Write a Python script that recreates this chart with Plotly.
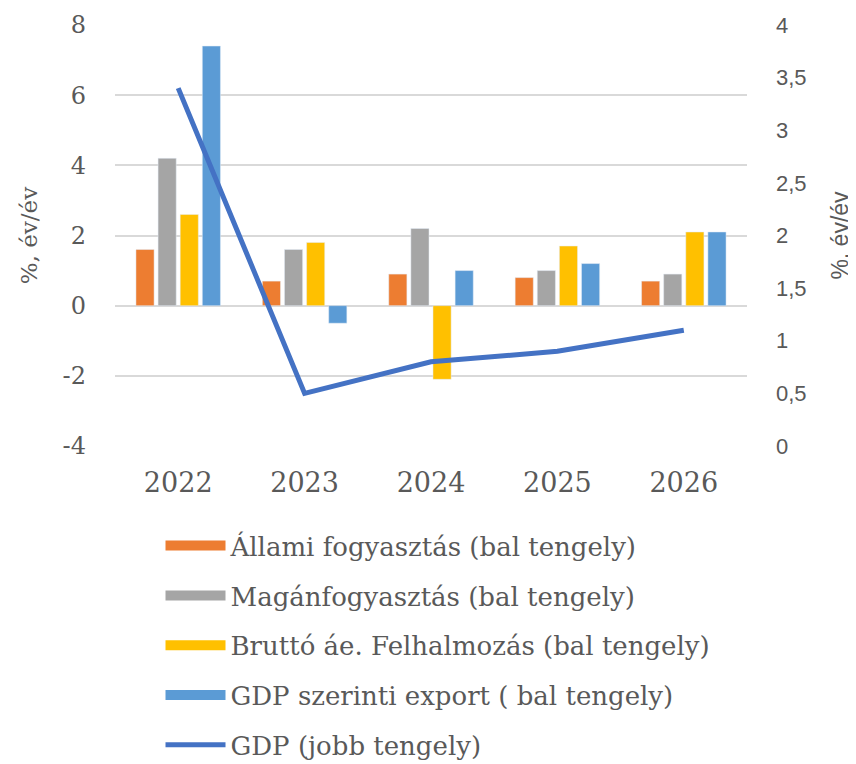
import plotly.graph_objects as go

years = ["2022", "2023", "2024", "2025", "2026"]

allami = [1.6, 0.7, 0.9, 0.8, 0.7]
magan = [4.2, 1.6, 2.2, 1.0, 0.9]
brutto = [2.6, 1.8, -2.1, 1.7, 2.1]
export = [7.4, -0.5, 1.0, 1.2, 2.1]
gdp = [3.4, 0.5, 0.8, 0.9, 1.1]

left_ticks = [-4, -2, 0, 2, 4, 6, 8]
left_labels = ["-4", "-2", "0", "2", "4", "6", "8"]
right_ticks = [0, 0.5, 1, 1.5, 2, 2.5, 3, 3.5, 4]
right_labels = ["0", "0,5", "1", "1,5", "2", "2,5", "3", "3,5", "4"]

serif = "DejaVu Serif, Liberation Serif, serif"
sans = "Liberation Sans, Arial, sans-serif"
txt = "#595959"

fig = go.Figure()
bars = [
    ("Állami fogyasztás (bal tengely)", allami, "#ED7D31"),
    ("Magánfogyasztás (bal tengely)", magan, "#A5A5A5"),
    ("Bruttó áe. Felhalmozás (bal tengely)", brutto, "#FFC000"),
    ("GDP szerinti export ( bal tengely)", export, "#5B9BD5"),
]
for i, (name, vals, col) in enumerate(bars):
    fig.add_trace(go.Bar(x=years, y=vals, name=name, marker_color=col,
                         showlegend=False))

fig.add_trace(go.Scatter(x=years, y=gdp, name="GDP (jobb tengely)", yaxis="y2",
                         mode="lines", line=dict(color="#4472C4", width=5),
                         showlegend=False))

# legend entries: wide swatches like the original
for i, (name, vals, col) in enumerate(bars):
    fig.add_trace(go.Scatter(x=[None], y=[None], name=name, mode="lines",
                             line=dict(color=col, width=12), legendgroup=str(i)))
fig.add_trace(go.Scatter(x=[None], y=[None], name="GDP (jobb tengely)", mode="lines",
                         line=dict(color="#4472C4", width=5), legendgroup="gdp"))

fig.update_layout(
    width=856, height=764,
    margin=dict(l=107, r=117, t=17, b=326, autoexpand=False),
    plot_bgcolor="white", paper_bgcolor="white",
    barmode="group", bargap=0.3, bargroupgap=0.18,
    font=dict(family=serif, color=txt, size=20),
    xaxis=dict(tickfont=dict(family=serif, size=27, color=txt),
               showline=False, ticks="", ticklabelstandoff=18),
    yaxis=dict(range=[-4, 8], tickvals=left_ticks, ticktext=left_labels,
               tickfont=dict(family=serif, size=24, color=txt),
               ticklabelstandoff=28,
               gridcolor="#D9D9D9", gridwidth=1.5, zeroline=True,
               zerolinecolor="#D9D9D9", zerolinewidth=1.5,
               title=dict(text="%, év/év", font=dict(family=serif, size=23, color=txt),
                          standoff=18)),
    yaxis2=dict(range=[0, 4], tickvals=right_ticks, ticktext=right_labels,
                overlaying="y", side="right", showgrid=False, zeroline=False,
                tickfont=dict(family=sans, size=22, color=txt),
                ticklabelstandoff=28,
                title=dict(text="%, év/év", font=dict(family=sans, size=23, color=txt),
                           standoff=26)),
    legend=dict(orientation="v", x=0.072, xanchor="left", y=-0.181, yanchor="top",
                font=dict(family=serif, size=26, color=txt),
                tracegroupgap=13, itemwidth=60),
)

fig.write_html("out.html")
